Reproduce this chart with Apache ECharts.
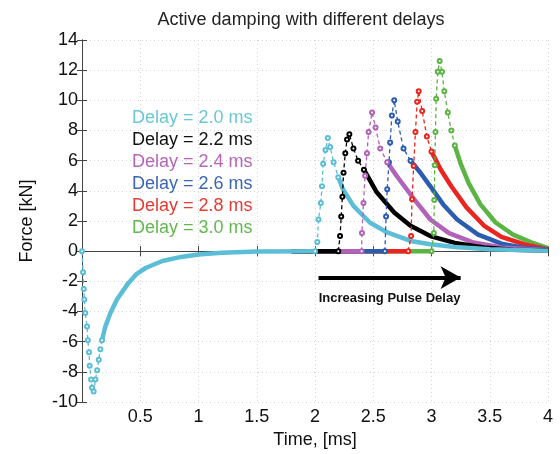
<!DOCTYPE html>
<html lang="en">
<head>
    <meta charset="UTF-8">
    <title>Active damping with different delays</title>
    <style>
        * { padding: 0; margin: 0; }
        #chart { width: 560px; height: 454px; background: #fff; }
    </style>
    <script src="https://cdn.jsdelivr.net/npm/echarts@6/dist/echarts.min.js"></script>
</head>
<body>
<div id="chart"></div>
<script>
    // delays and legend labels
    const names = ['Delay = 2.0 ms', 'Delay = 2.2 ms', 'Delay = 2.4 ms', 'Delay = 2.6 ms', 'Delay = 2.8 ms', 'Delay = 3.0 ms']
    const colors = ['#5cbdd6', '#000000', '#b262b8', '#2c5cb0', '#e8261f', '#5bb444']
    const legendColors = ['#6cc6d6', '#111111', '#b566b8', '#3a66b2', '#e43a33', '#62b84e']

    // first (negative) pulse, shared by all curves, drawn with cyan
    const negPulse = [[0, 0], [0.009, -1.4], [0.015, -2.5], [0.02, -3.2], [0.028, -4.1], [0.043, -5.0], [0.05, -5.9],
        [0.06, -6.7], [0.066, -7.6], [0.078, -8.5], [0.086, -9.05], [0.1, -9.3], [0.115, -8.5], [0.13, -7.9],
        [0.144, -7.2], [0.158, -6.5], [0.172, -5.9]]
    const negTail = [[0.172, -5.9], [0.2, -5.0], [0.244, -4.1], [0.3, -3.2], [0.39, -2.2], [0.47, -1.5], [0.55, -1.1],
        [0.69, -0.65], [0.85, -0.38], [1.0, -0.22], [1.2, -0.1], [1.5, -0.03], [2.0, 0]]

    // second (positive) pulse per delay: fast rise, then decay
    const pulse20 = [[2.0, 0], [2.02, 0.6], [2.03, 2.1], [2.05, 3.2], [2.06, 4.3], [2.07, 5.8], [2.09, 6.7], [2.11, 7.5],
        [2.13, 6.9], [2.16, 5.9], [2.2, 4.9]]
    const tail20 = [[2.2, 4.9], [2.24, 4.1], [2.33, 3.0], [2.47, 1.9], [2.62, 1.24], [2.82, 0.68], [2.99, 0.46], [3.2, 0.28],
        [3.5, 0.12], [4.0, 0.03]]

    const pulse22 = [[2.2, 0], [2.215, 1.0], [2.225, 2.3], [2.235, 3.6], [2.245, 5.2], [2.26, 6.5], [2.275, 7.4], [2.295, 7.75],
        [2.33, 6.8], [2.37, 6.0], [2.42, 5.4]]
    const tail22 = [[2.42, 5.4], [2.53, 3.9], [2.68, 2.57], [2.82, 1.68], [2.99, 1.0], [3.2, 0.55], [3.45, 0.25], [3.7, 0.1], [4.0, 0.04]]

    const pulse24 = [[2.4, 0], [2.403, 1.2], [2.416, 3.2], [2.43, 5.0], [2.446, 6.5], [2.46, 7.9], [2.49, 9.2], [2.52, 8.2],
        [2.56, 6.8], [2.62, 5.9]]
    const tail24 = [[2.62, 5.9], [2.70, 5.0], [2.85, 3.45], [2.99, 2.1], [3.15, 1.2], [3.35, 0.6], [3.6, 0.25], [4.0, 0.06]]

    const pulse26 = [[2.6, 0], [2.61, 2.3], [2.62, 4.1], [2.635, 5.9], [2.645, 7.2], [2.66, 9.0], [2.68, 10.0], [2.71, 8.6],
        [2.76, 6.8], [2.82, 6.0]]
    const tail26 = [[2.82, 6.0], [2.905, 5.2], [2.99, 4.3], [3.1, 3.1], [3.22, 2.1], [3.4, 1.1], [3.6, 0.5], [3.8, 0.22], [4.0, 0.1]]

    const pulse28 = [[2.8, 0], [2.825, 1.0], [2.833, 3.45], [2.847, 5.65], [2.862, 7.9], [2.877, 9.9], [2.89, 10.6], [2.92, 9.3],
        [2.96, 7.6], [3.0, 6.6]]
    const tail28 = [[3.0, 6.6], [3.08, 5.4], [3.17, 4.3], [3.3, 2.9], [3.45, 1.7], [3.6, 0.95], [3.8, 0.45], [4.0, 0.12]]

    const pulse30 = [[3.0, 0], [3.02, 1.2], [3.024, 3.4], [3.028, 5.7], [3.034, 7.9], [3.04, 10.1], [3.054, 11.9], [3.07, 12.6],
        [3.09, 11.9], [3.11, 10.6], [3.14, 9.2], [3.17, 8.0], [3.2, 7.0]]
    const tail30 = [[3.2, 7.0], [3.25, 5.8], [3.32, 4.5], [3.42, 3.1], [3.55, 1.9], [3.7, 1.1], [3.85, 0.6], [4.0, 0.2]]

    const delays = [2.0, 2.2, 2.4, 2.6, 2.8, 3.0]
    const pulses = [pulse20, pulse22, pulse24, pulse26, pulse28, pulse30]
    const tails = [tail20, tail22, tail24, tail26, tail28, tail30]

    const font = 'Liberation Sans, Arial, sans-serif'
    let EC = echarts.init(document.getElementById('chart'))

    let series = []
    // draw the last delay first so cyan ends up on top
    for (let i = delays.length - 1; i >= 0; i--) {
        let solid = []
        if (i === 0) {
            solid = negTail.concat([[2.1, '-']], tails[0])
        } else {
            solid = [[1.8, 0], [delays[i], 0], [delays[i] + 0.01, '-']].concat(tails[i])
        }
        series.push({
            name: names[i],
            type: 'line',
            data: solid,
            showSymbol: false,
            symbol: 'none',
            lineStyle: { color: colors[i], width: 4.5 },
            itemStyle: { color: colors[i] },
            z: 2
        })
        series.push({
            name: names[i],
            type: 'line',
            data: i === 0 ? negPulse.concat([[1, '-']], pulses[0]) : pulses[i],
            symbol: 'emptyCircle',
            symbolSize: 4,
            lineStyle: { color: colors[i], width: 1.3, type: [4, 3] },
            itemStyle: { color: colors[i], borderWidth: 1 },
            z: 3
        })
    }
    // arrow with caption
    series.push({
        type: 'line',
        data: [],
        markLine: {
            silent: true,
            symbol: ['none', 'arrow'],
            symbolSize: [17, 20],
            lineStyle: { color: '#000', width: 4, type: 'solid' },
            label: {
                show: true,
                position: 'insideMiddleBottom',
                distance: 14,
                formatter: 'Increasing Pulse Delay',
                color: '#111',
                fontFamily: font,
                fontWeight: 'bold',
                fontSize: 13
            },
            data: [[{ coord: [2.03, -1.75] }, { coord: [3.25, -1.75] }]]
        }
    })

    const splitStyle = { show: true, lineStyle: { color: '#d4d4d4', type: [1, 3], width: 1 } }
    const axisLine = { show: true, lineStyle: { color: '#444', width: 1 } }
    const tick = { show: true, inside: true, length: 5, lineStyle: { color: '#444' } }

    let option = {
        animation: false,
        backgroundColor: '#fff',
        title: {
            text: 'Active damping with different delays',
            left: 296,
            top: 6,
            textAlign: 'center',
            textStyle: { fontFamily: font, fontSize: 18, fontWeight: 'normal', color: '#222' }
        },
        legend: {
            orient: 'vertical',
            left: 122,
            top: 104,
            icon: 'none',
            itemWidth: 0,
            itemHeight: 18,
            itemGap: 4,
            selectedMode: false,
            textStyle: { fontFamily: font, fontSize: 18, padding: 0 },
            data: names.map((n, i) => ({ name: n, textStyle: { color: legendColors[i] } }))
        },
        grid: { left: 82, right: 12, top: 40, bottom: 52 },
        xAxis: [{
            type: 'value',
            min: 0,
            max: 4,
            interval: 0.5,
            name: 'Time, [ms]',
            nameLocation: 'middle',
            nameGap: 28,
            nameTextStyle: { fontFamily: font, fontSize: 18, color: '#111' },
            axisLine: axisLine,
            axisTick: tick,
            splitLine: splitStyle,
            axisLabel: {
                fontFamily: font, fontSize: 18, color: '#111', margin: 6,
                formatter: v => (v === 0 ? '' : String(v))
            }
        }, {
            type: 'value',
            position: 'top',
            min: 0,
            max: 4,
            interval: 0.5,
            axisLine: axisLine,
            axisTick: tick,
            splitLine: { show: false },
            axisLabel: { show: false }
        }],
        yAxis: [{
            type: 'value',
            min: -10,
            max: 14,
            interval: 2,
            name: 'Force [kN]',
            nameLocation: 'middle',
            nameGap: 46,
            nameRotate: 90,
            nameTextStyle: { fontFamily: font, fontSize: 18, color: '#111' },
            axisLine: axisLine,
            axisTick: tick,
            splitLine: splitStyle,
            axisLabel: { fontFamily: font, fontSize: 18, color: '#111', margin: 4 }
        }, {
            type: 'value',
            position: 'right',
            min: -10,
            max: 14,
            interval: 2,
            axisLine: axisLine,
            axisTick: tick,
            splitLine: { show: false },
            axisLabel: { show: false }
        }],
        series: series
    }
    EC.setOption(option)
</script>
</body>
</html>
